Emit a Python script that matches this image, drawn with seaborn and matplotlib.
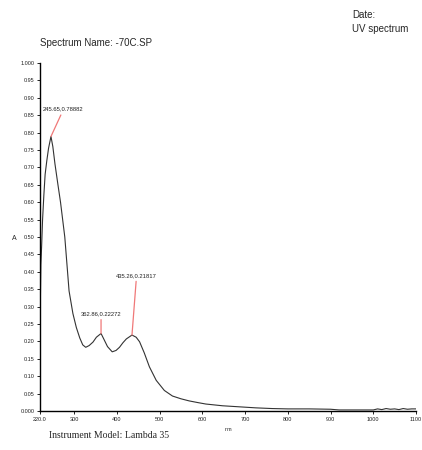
"""
UV spectrum of -70C.SP (Lambda 35)
"""
import numpy as np
import pandas as pd
import matplotlib
matplotlib.use('Agg')
import matplotlib.pyplot as plt
import seaborn as sns

# values
wavelength = [220, 221, 222, 224, 226, 229, 232, 236, 240, 245.65, 250, 255, 262, 268, 278,
              288, 297, 305, 313, 320, 327, 335, 344, 352, 362.86, 370, 378, 389, 398,
              406, 414, 422, 435.26, 445, 453, 464, 476, 492, 511, 530, 550, 569, 590,
              608, 647, 686, 725, 763, 800, 850, 900, 920, 960, 1000, 1010, 1020, 1030,
              1040, 1050, 1060, 1070, 1080, 1090, 1100]
absorbance = [0.23, 0.33, 0.42, 0.48, 0.55, 0.62, 0.68, 0.72, 0.755, 0.78882, 0.76, 0.71, 0.65,
              0.60, 0.50, 0.345, 0.28, 0.24, 0.21, 0.19, 0.183, 0.188, 0.198, 0.212, 0.22272,
              0.205, 0.185, 0.170, 0.174, 0.183, 0.196, 0.207, 0.21817, 0.212, 0.199, 0.167,
              0.127, 0.088, 0.059, 0.043, 0.035, 0.029, 0.024, 0.020, 0.015, 0.012, 0.009,
              0.007, 0.006, 0.006, 0.005, 0.003, 0.003, 0.003, 0.006, 0.004, 0.007, 0.005,
              0.006, 0.004, 0.007, 0.005, 0.006, 0.006]

peaks_nm = [245.65, 362.86, 435.26]
peaks_a = [0.78882, 0.22272, 0.21817]
peak_labels = ['245.65,0.78882', '362.86,0.22272', '435.26,0.21817']
label_pos = [(275, 0.860), (362.86, 0.272), (446, 0.382)]

yticks = np.round(np.arange(0, 1.0001, 0.05), 2)
ytick_labels = ['0.000'] + [f'{v:.2f}' for v in yticks[1:-1]] + ['1.000']
xticks = [220, 300, 400, 500, 600, 700, 800, 900, 1000, 1100]
xtick_labels = ['220.0'] + [str(v) for v in xticks[1:]]

sns.set_style('ticks')
plt.rcParams['font.family'] = ['Liberation Sans', 'DejaVu Sans']

df = pd.DataFrame({'nm': wavelength, 'A': absorbance})

fig = plt.figure(figsize=(4.22, 4.5), dpi=100)
ax = fig.add_axes([0.0948, 0.0867, 0.891, 0.7733])

sns.lineplot(data=df, x='nm', y='A', color='#333333', lw=0.8, ax=ax)

for nm, a, lab, pos in zip(peaks_nm, peaks_a, peak_labels, label_pos):
    ax.annotate(lab, xy=(nm, a), xytext=pos, ha='center', va='bottom', fontsize=4.2,
                color='#222222',
                arrowprops=dict(arrowstyle='-', color='#f07878', lw=0.9, shrinkA=0, shrinkB=0))

ax.set_xlim(220, 1100)
ax.set_ylim(0, 1.0)
ax.set_xticks(xticks)
ax.set_xticklabels(xtick_labels, fontsize=4)
ax.set_yticks(yticks)
ax.set_yticklabels(ytick_labels, fontsize=4)
ax.tick_params(axis='both', length=2, width=0.6, pad=2, color='black', labelcolor='#222222')
sns.despine(ax=ax)
for s in ['left', 'bottom']:
    ax.spines[s].set_linewidth(1.0)
    ax.spines[s].set_color('black')

ax.set_xlabel('nm', fontsize=4, labelpad=4)
ax.set_ylabel('A', fontsize=5, rotation=0)
ax.yaxis.set_label_coords(-0.069, 0.486)

fig.text(40 / 422, 1 - 43 / 450, 'Spectrum Name: -70C.SP', fontsize=7, va='center', ha='left')
fig.text(352 / 422, 1 - 15 / 450, 'Date:', fontsize=7, va='center', ha='left')
fig.text(352 / 422, 1 - 29 / 450, 'UV spectrum', fontsize=7, va='center', ha='left')
fig.text(49 / 422, 1 - 436 / 450, 'Instrument Model: Lambda 35', fontsize=7, va='center',
         ha='left', family=['Liberation Serif', 'DejaVu Serif'])

fig.savefig('out.png', dpi=100)
